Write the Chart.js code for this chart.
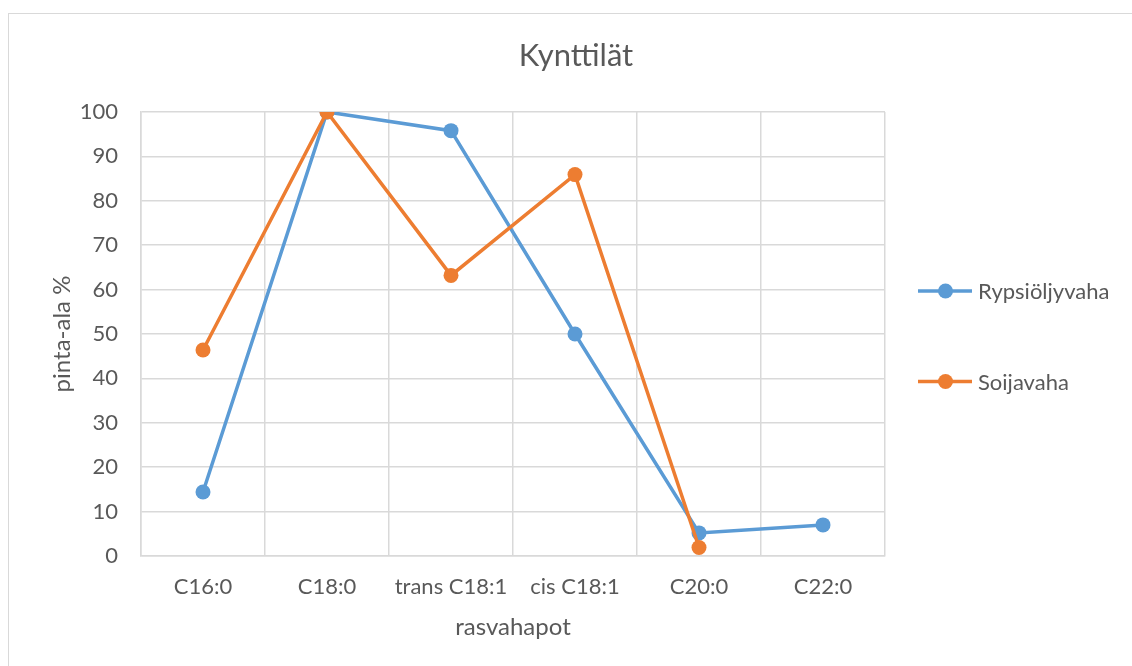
<!DOCTYPE html>
<html>
<head>
<meta charset="utf-8">
<title>Kynttilät</title>
<script src="https://cdn.jsdelivr.net/npm/chart.js@4.4.1/dist/chart.umd.min.js"></script>
<style>
  html, body { margin: 0; padding: 0; background: #fff; overflow: hidden; width: 1132px; height: 666px; }
  #frame {
    position: absolute; left: 8px; top: 13px; width: 1200px; height: 700px;
    border-top: 1px solid #d9d9d9; border-left: 1px solid #d9d9d9;
  }
  #wrap { position: absolute; left: 9px; top: 15px; width: 1134px; height: 640px; }
</style>
</head>
<body>
<div id="frame"></div>
<div id="wrap"><canvas id="chart1"></canvas></div>
<script>
// Tiedot
const categories = ['C16:0', 'C18:0', 'trans C18:1', 'cis C18:1', 'C20:0', 'C22:0'];
const rypsiValues = [14.4, 100, 95.8, 50, 5.2, 7.0];
const soijaValues = [46.4, 100, 63.2, 85.9, 1.9, null];
const seriesNames = ['Rypsiöljyvaha', 'Soijavaha'];
const chartTitle = 'Kynttilät';
const xTitle = 'rasvahapot';
const yTitle = 'pinta-ala %';

const fontFamily = 'Lato, "Open Sans", sans-serif';
const textColor = '#595959';
const gridColor = '#d9d9d9';
const blue = '#5b9bd5';
const orange = '#ed7d31';

// otsikko ja selite piirretään itse, jotta oikea reuna saadaan varattua selitteelle
const decor = {
  id: 'decor',
  afterDraw(chart) {
    const { ctx, chartArea } = chart;
    ctx.save();
    ctx.fillStyle = textColor;
    ctx.font = `31px ${fontFamily}`;
    ctx.textAlign = 'center';
    ctx.textBaseline = 'alphabetic';
    ctx.fillText(chartTitle, chart.width / 2, chartArea.top - 46);

    const x0 = chartArea.right + 33;
    chart.data.datasets.forEach((ds, i) => {
      const y = chartArea.top + 179 + i * 90.5;
      ctx.strokeStyle = ds.borderColor;
      ctx.lineWidth = 3.5;
      ctx.beginPath();
      ctx.moveTo(x0, y);
      ctx.lineTo(x0 + 54, y);
      ctx.stroke();
      ctx.fillStyle = ds.borderColor;
      ctx.beginPath();
      ctx.arc(x0 + 27.5, y, 7.5, 0, Math.PI * 2);
      ctx.fill();
      ctx.fillStyle = textColor;
      ctx.font = `22px ${fontFamily}`;
      ctx.textAlign = 'left';
      ctx.textBaseline = 'middle';
      ctx.fillText(ds.label, x0 + 60, y + 1);
    });
    ctx.restore();
  }
};

const lineSet = (label, data, color, order) => ({
  label: label,
  data: data,
  borderColor: color,
  backgroundColor: color,
  borderWidth: 3.5,
  pointRadius: 7.5,
  pointHoverRadius: 7.5,
  pointBorderWidth: 0,
  tension: 0,
  order: order
});

const ctx = document.getElementById('chart1').getContext('2d');
new Chart(ctx, {
  type: 'line',
  data: {
    labels: categories,
    datasets: [
      lineSet(seriesNames[0], rypsiValues, blue, 1),
      lineSet(seriesNames[1], soijaValues, orange, 0)
    ]
  },
  options: {
    responsive: true,
    maintainAspectRatio: false,
    animation: false,
    layout: { padding: { top: 97, right: 258, bottom: 13, left: 0 } },
    plugins: {
      legend: { display: false },
      title: { display: false },
      tooltip: { enabled: false }
    },
    scales: {
      x: {
        offset: true,
        grid: { offset: true, color: gridColor, lineWidth: 1.5, drawTicks: false },
        border: { color: gridColor, width: 1.5 },
        ticks: { color: textColor, font: { family: fontFamily, size: 22 }, padding: 18 },
        title: {
          display: true, text: xTitle, color: textColor,
          font: { family: fontFamily, size: 24 }, padding: { top: 0, bottom: 0 }
        },
        afterFit: (scale) => { scale.height = 86; }
      },
      y: {
        min: 0,
        max: 100,
        grid: { color: gridColor, lineWidth: 1.5, drawTicks: false },
        border: { color: gridColor, width: 1.5 },
        ticks: { stepSize: 10, color: textColor, font: { family: fontFamily, size: 22 }, padding: 23 },
        title: {
          display: true, text: yTitle, color: textColor,
          font: { family: fontFamily, size: 24 }, padding: { top: 39, bottom: 0 }
        },
        afterFit: (scale) => { scale.width = 132; }
      }
    }
  },
  plugins: [decor]
});
</script>
</body>
</html>
